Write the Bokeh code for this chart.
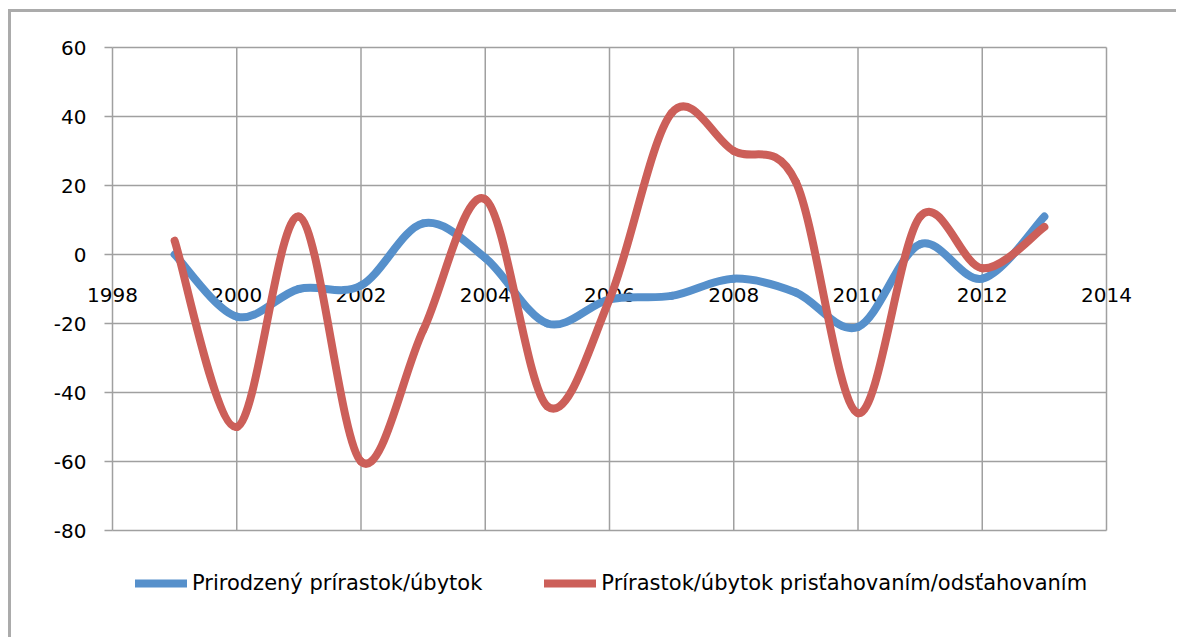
from bokeh.plotting import figure
from bokeh.models import Range1d, Legend, LegendItem, ColumnDataSource
from bokeh.core.properties import value
from bokeh.embed import file_html
from bokeh.resources import INLINE

# ---- data ----
years = [1999, 2000, 2001, 2002, 2003, 2004, 2005, 2006, 2007, 2008, 2009, 2010, 2011, 2012, 2013]
natural = [0, -18, -10, -9, 9, -1, -20, -13, -12, -7, -11, -21, 3, -7, 11]
migration = [4, -50, 11, -60, -22, 16, -44, -13, 41, 30, 21, -46, 11, -4, 8]
series_names = ["Prirodzený prírastok/úbytok", "Prírastok/úbytok prisťahovaním/odsťahovaním"]
x_ticks = [1998, 2000, 2002, 2004, 2006, 2008, 2010, 2012, 2014]
x_tick_labels = ["1998", "2000", "2002", "2004", "2006", "2008", "2010", "2012", "2014"]
y_ticks = [-80, -60, -40, -20, 0, 20, 40, 60]
y_tick_labels = ["-80", "-60", "-40", "-20", "0", "20", "40", "60"]

BLUE = "#5690CB"
RED = "#CC5F59"
GRID = "#A0A0A0"
FONT = "DejaVu Sans"

# ---- layout geometry (pixels) ----
W, H = 1168, 628                 # canvas size
PLOT_L, PLOT_T = 101, 35         # plot area top-left inside the canvas
PLOT_W, PLOT_H = 994, 483        # plot area size
x_lo, x_hi = x_ticks[0], x_ticks[-1]
y_lo, y_hi = y_ticks[0], y_ticks[-1]
ppx = PLOT_W / (x_hi - x_lo)
ppy = PLOT_H / (y_hi - y_lo)
x_range = Range1d(x_lo - PLOT_L / ppx, x_hi + (W - PLOT_L - PLOT_W) / ppx)
y_range = Range1d(y_lo - (H - PLOT_T - PLOT_H) / ppy, y_hi + PLOT_T / ppy)


def smooth_segments(xs, ys):
    """Bezier control points (Catmull-Rom style, like Excel's smoothed lines)."""
    n = len(xs)
    d = dict(x0=[], y0=[], x1=[], y1=[], cx0=[], cy0=[], cx1=[], cy1=[])
    for i in range(n - 1):
        a = i - 1 if i > 0 else i
        b = i + 2 if i + 2 < n else i + 1
        x1, y1, x2, y2 = xs[i], ys[i], xs[i + 1], ys[i + 1]
        d["x0"].append(x1); d["y0"].append(y1)
        d["x1"].append(x2); d["y1"].append(y2)
        d["cx0"].append(x1 + (x2 - xs[a]) / 6.0)
        d["cy0"].append(y1 + (y2 - ys[a]) / 6.0)
        d["cx1"].append(x2 - (xs[b] - x1) / 6.0)
        d["cy1"].append(y2 - (ys[b] - y1) / 6.0)
    return ColumnDataSource(d)


p = figure(width=W, height=H, output_backend="svg", toolbar_location=None,
           x_range=x_range, y_range=y_range, x_axis_location=None, y_axis_location=None,
           min_border=0)
p.styles = {"border-left": "3px solid #ABABAB", "border-top": "3px solid #ABABAB",
            "margin-left": "8px", "margin-top": "9px"}
p.background_fill_color = "white"
p.border_fill_color = "white"
p.outline_line_color = None
p.grid.visible = False

# grid lines of the plot area (from the tick lists)
p.segment(x0=x_ticks, y0=[y_lo] * len(x_ticks), x1=x_ticks, y1=[y_hi] * len(x_ticks),
          line_color=GRID, line_width=1.5)
p.segment(x0=[x_lo] * len(y_ticks), y0=y_ticks, x1=[x_hi] * len(y_ticks), y1=y_ticks,
          line_color=GRID, line_width=1.5)
# y tick marks (8 px outside the plot area)
p.segment(x0=[x_lo - 8 / ppx] * len(y_ticks), y0=y_ticks, x1=[x_lo] * len(y_ticks), y1=y_ticks,
          line_color=GRID, line_width=1.5)

# y tick labels
p.text(x=[x_lo] * len(y_ticks), y=y_ticks, text=y_tick_labels,
       text_align="right", text_baseline="middle", x_offset=-26,
       text_font=value(FONT), text_font_size="20px", text_color="black")
# x tick labels just below the zero line
p.text(x=x_ticks, y=[0] * len(x_ticks), text=x_tick_labels,
       text_align="center", text_baseline="middle", y_offset=40,
       text_font=value(FONT), text_font_size="20px", text_color="black")

r_blue = p.bezier(source=smooth_segments(years, natural), x0="x0", y0="y0", x1="x1", y1="y1",
                  cx0="cx0", cy0="cy0", cx1="cx1", cy1="cy1",
                  line_color=BLUE, line_width=8, line_cap="round")
r_red = p.bezier(source=smooth_segments(years, migration), x0="x0", y0="y0", x1="x1", y1="y1",
                 cx0="cx0", cy0="cy0", cx1="cx1", cy1="cy1",
                 line_color=RED, line_width=8, line_cap="round")

lg = Legend(items=[LegendItem(label=series_names[0], renderers=[r_blue]),
                   LegendItem(label=series_names[1], renderers=[r_red])],
            location=(124, 45), orientation="horizontal", spacing=62,
            glyph_width=52, glyph_height=20, label_standoff=5,
            padding=0, margin=0, border_line_color=None, background_fill_alpha=0,
            label_text_font=FONT, label_text_font_size="21px", label_text_color="black")
p.add_layout(lg, "center")

open("out.html", "w").write(file_html(p, INLINE))
